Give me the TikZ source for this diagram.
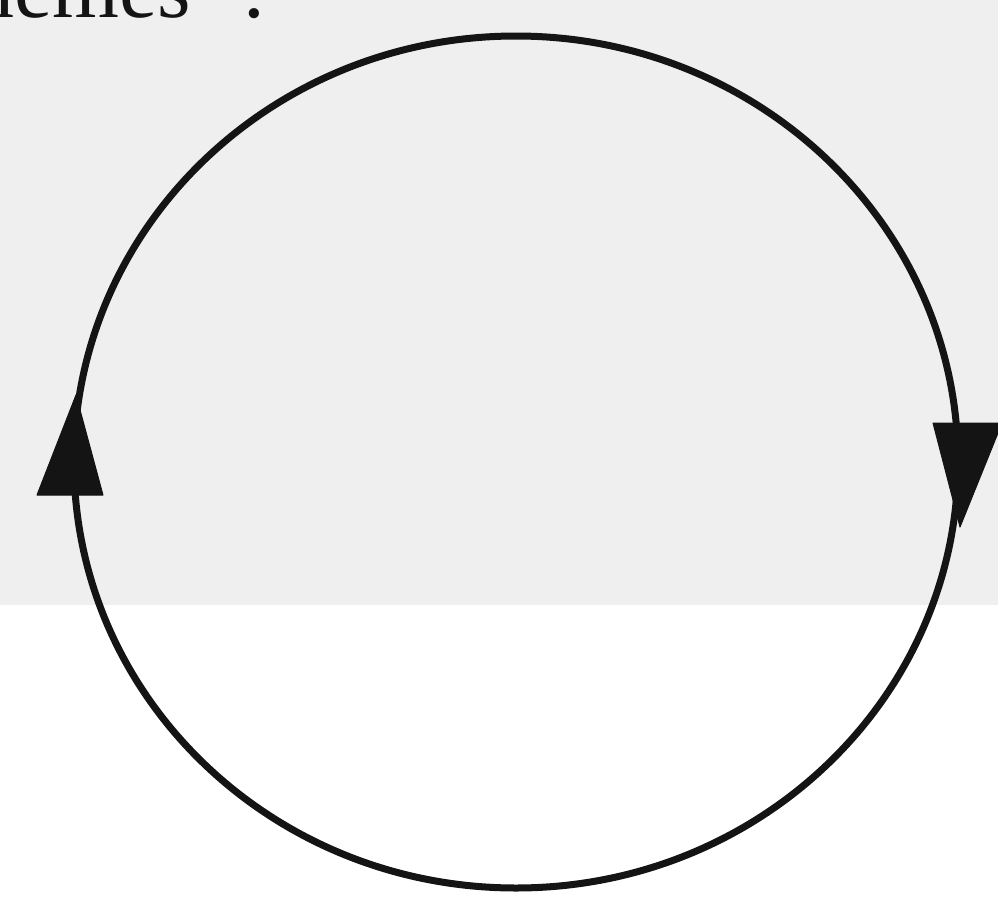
\documentclass[tikz,border=0pt]{standalone}
\usepackage{fontspec}
\setmainfont{Liberation Serif}
\definecolor{paper}{HTML}{EFEFEF}
\definecolor{ink}{HTML}{141414}
\tikzset{
  loop/.style={draw=ink, line width=7pt},
  head/.style={fill=ink, draw=ink, line width=1pt, line join=round}
}
\begin{document}
\begin{tikzpicture}[x=1pt,y=-1pt]
\useasboundingbox (0,0) rectangle (998,905);
\begin{scope}
\clip (0,0) rectangle (998,905);
\fill[paper] (0,0) rectangle (998,605);
\node[anchor=base west, inner sep=0pt, font=\fontsize{86}{90}\selectfont, text=ink] (txt) at (-29,17) {nemes\hspace{0.6em}:};
\draw[loop] (516,462) ellipse [x radius=442, y radius=426];
\fill[head] (37,495) -- (103,495) -- (76,395) -- cycle;
\fill[head] (933,423) -- (1002,423) -- (960,527) -- cycle;
\end{scope}
\end{tikzpicture}
\end{document}
